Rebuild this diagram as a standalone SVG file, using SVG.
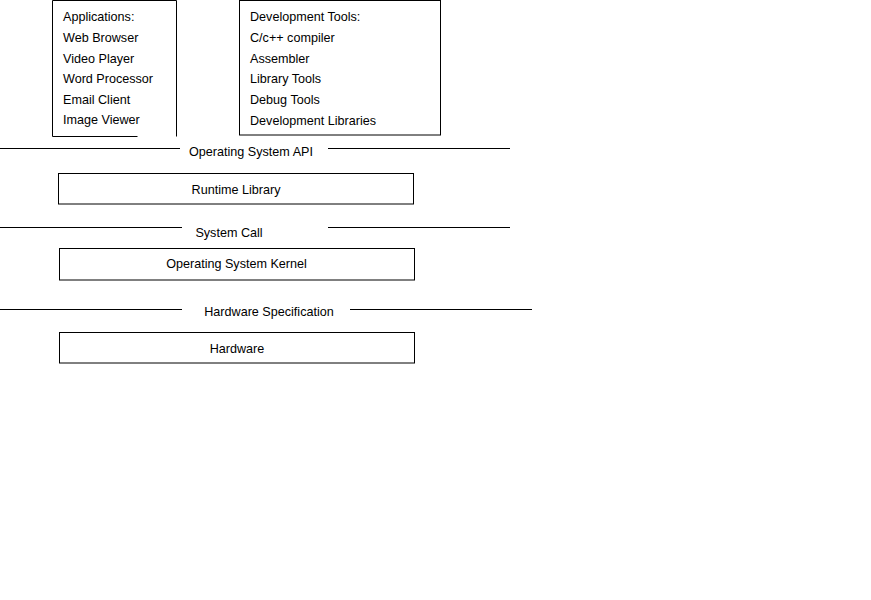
<svg xmlns="http://www.w3.org/2000/svg" width="871" height="600" viewBox="0 0 871 600">
<style>
.box{fill:none;stroke:#000;stroke-width:1}
.ln{stroke:#000;stroke-width:1;fill:none}
text{font-family:"Liberation Sans",Arial,sans-serif;font-size:12.6px;fill:#000}
.c{text-anchor:middle}
</style>
<rect width="871" height="600" fill="#fff"/>
<g id="applications">
<path class="box" d="M137.5,136.5 H52.5 V0.5 H176.5 V136.5"/>
<text x="63" y="21">Applications:</text>
<text x="63" y="42">Web Browser</text>
<text x="63" y="62.5">Video Player</text>
<text x="63" y="83">Word Processor</text>
<text x="63" y="103.5">Email Client</text>
<text x="63" y="124">Image Viewer</text>
</g>
<g id="devtools">
<rect class="box" x="239.5" y="0.5" width="201" height="134.5"/>
<text x="250" y="21">Development Tools:</text>
<text x="250" y="42">C/c++ compiler</text>
<text x="250" y="62.5">Assembler</text>
<text x="250" y="83">Library Tools</text>
<text x="250" y="103.5">Debug Tools</text>
<text x="250" y="124.5">Development Libraries</text>
</g>
<g id="os-api">
<text class="c" x="251" y="156">Operating System API</text>
</g>
<g id="runtime">
<rect class="box" x="58.5" y="173.5" width="355" height="30.5"/>
<text class="c" x="236" y="193.5">Runtime Library</text>
</g>
<g id="syscall">
<text class="c" x="229" y="237">System Call</text>
</g>
<g id="kernel">
<rect class="box" x="59.5" y="248.5" width="355" height="31.5"/>
<text class="c" x="236.5" y="268">Operating System Kernel</text>
</g>
<g id="hwspec">
<text class="c" x="269" y="316">Hardware Specification</text>
</g>
<g id="hardware">
<rect class="box" x="59.5" y="332.5" width="355" height="30.5"/>
<text class="c" x="237" y="353">Hardware</text>
</g>
<g id="connectors">
<line class="ln" x1="0" y1="148.5" x2="180" y2="148.5"/>
<line class="ln" x1="328" y1="148.5" x2="510" y2="148.5"/>
<line class="ln" x1="0" y1="227.5" x2="182" y2="227.5"/>
<line class="ln" x1="328" y1="227.5" x2="510" y2="227.5"/>
<line class="ln" x1="0" y1="309.5" x2="182" y2="309.5"/>
<line class="ln" x1="350" y1="309.5" x2="532" y2="309.5"/>
</g>
</svg>
